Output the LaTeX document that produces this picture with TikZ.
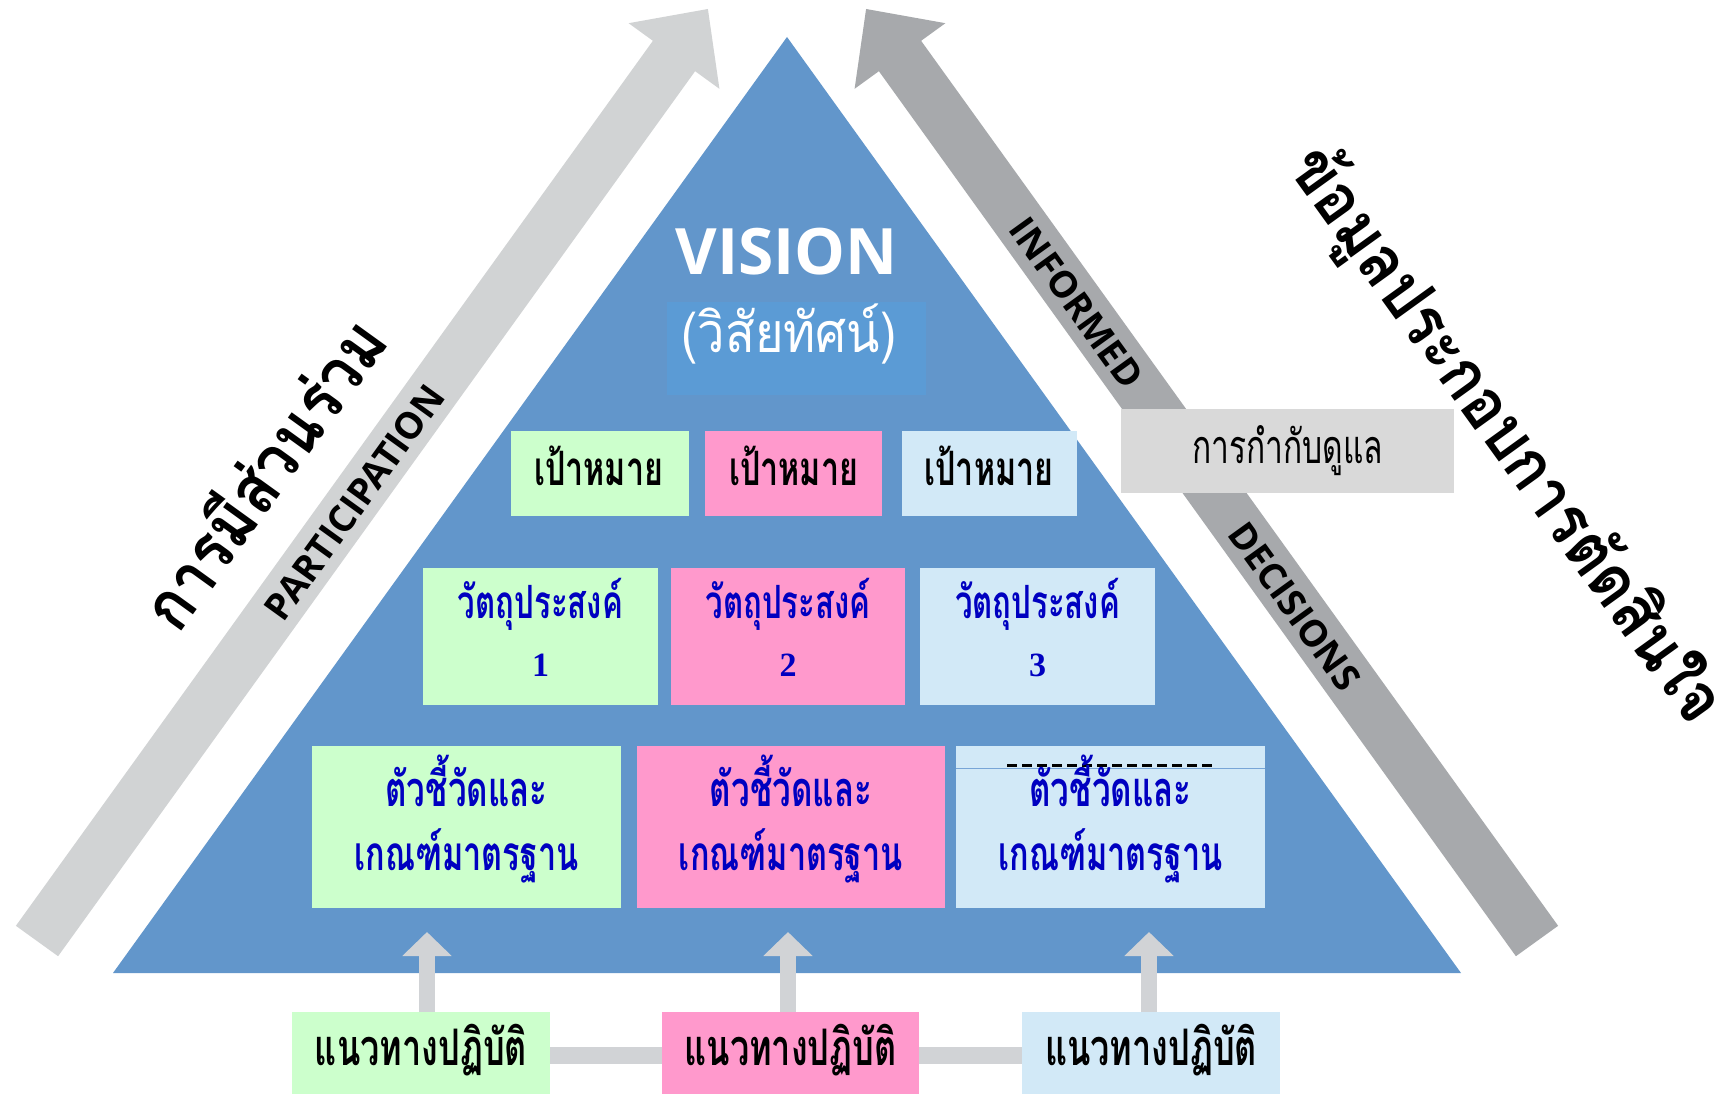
\documentclass[tikz,border=0pt]{standalone}
\usepackage{fontspec}
\usepackage{graphicx}
\usetikzlibrary{arrows.meta,fit}
\newfontfamily\thaiL[Script=Thai]{Loma}
\newfontfamily\thaiM[Script=Thai,FakeStretch=0.88]{Loma}
\newfontfamily\thaiN[Script=Thai,FakeStretch=0.68]{Loma}
\newfontfamily\osans{Open Sans}
\newfontfamily\sdig{Liberation Serif}
\newcommand\fitw[2]{\resizebox{#1pt}{!}{#2}}
\definecolor{tri}{RGB}{98,150,203}
\definecolor{visrect}{RGB}{91,155,213}
\definecolor{cgreen}{RGB}{204,255,204}
\definecolor{cpink}{RGB}{255,153,204}
\definecolor{cblue}{RGB}{210,233,247}
\definecolor{cgray}{RGB}{217,217,217}
\definecolor{arrL}{RGB}{209,211,212}
\definecolor{arrR}{RGB}{167,169,172}
\definecolor{sarr}{RGB}{209,211,214}
\definecolor{tblue}{RGB}{0,0,192}
\definecolor{artline}{RGB}{120,165,215}
\begin{document}
\begin{tikzpicture}[x=1pt,y=-1pt,
  box/.style={inner sep=0pt,outer sep=0pt,draw=none},
  lbl/.style={inner sep=0pt,outer sep=0pt,anchor=base},
  rot/.style={inner sep=0pt,outer sep=0pt,anchor=center},
  uparr/.style={draw=sarr,line width=16pt,-{Triangle[width=48pt,length=24pt]}},
  hbar/.style={draw=sarr,line width=17pt}]
\useasboundingbox (0,0) rectangle (1722,1094);
\fill[white] (0,0) rectangle (1722,1094);

% big side arrows
\fill[arrL] (15.9,925.8) -- (652.9,40.8) -- (628.6,23.2) -- (707.9,9) -- (719.4,88.8) -- (695.1,71.2) -- (58.1,956.2) -- cycle;
\fill[arrR] (1558.1,925.8) -- (921.1,40.8) -- (945.4,23.2) -- (866.1,9) -- (854.6,88.8) -- (878.9,71.2) -- (1515.9,956.2) -- cycle;

% triangle
\fill[tri] (787,37) -- (1461,973) -- (113,973) -- cycle;

% vision
\node[box,fill=visrect,fit={(667,302)(926,395)}] (vr) {};
\node[lbl,text=white] (vis) at (786.5,275) {\osans\bfseries\fontsize{64}{70}\selectfont VISION};
\node[lbl,text=white] (vist) at (789,352) {\fitw{215}{\thaiM\fontsize{40}{48}\selectfont (วิสัยทัศน์)}};

% gray box
\node[box,fill=cgray,fit={(1121,409)(1454,493)}] (gb) {};
\node[lbl] (gbt) at (1287.5,463) {\fitw{191}{\thaiN\fontsize{30}{36}\selectfont การกำกับดูแล}};

% row 1
\node[box,fill=cgreen,fit={(511,431)(689,516)}] (g1) {};
\node[box,fill=cpink,fit={(705,431)(882,516)}] (p1) {};
\node[box,fill=cblue,fit={(902,431)(1077,516)}] (l1) {};
\node[lbl] (g1t) at (598.5,485) {\fitw{129}{\thaiN\bfseries\fontsize{30}{36}\selectfont เป้าหมาย}};
\node[lbl] (p1t) at (793.5,485) {\fitw{129}{\thaiN\bfseries\fontsize{30}{36}\selectfont เป้าหมาย}};
\node[lbl] (l1t) at (989,485) {\fitw{129}{\thaiN\bfseries\fontsize{30}{36}\selectfont เป้าหมาย}};

% row 2
\node[box,fill=cgreen,fit={(423,568)(658,705)}] (g2) {};
\node[box,fill=cpink,fit={(671,568)(905,705)}] (p2) {};
\node[box,fill=cblue,fit={(920,568)(1155,705)}] (l2) {};
\node[lbl,text=tblue] (g2t) at (540.5,618) {\fitw{165}{\thaiN\bfseries\fontsize{30}{36}\selectfont วัตถุประสงค์}};
\node[lbl,text=tblue] (p2t) at (788,618) {\fitw{165}{\thaiN\bfseries\fontsize{30}{36}\selectfont วัตถุประสงค์}};
\node[lbl,text=tblue] (l2t) at (1037.5,618) {\fitw{165}{\thaiN\bfseries\fontsize{30}{36}\selectfont วัตถุประสงค์}};
\node[lbl,text=tblue] (g2n) at (540.5,676) {\sdig\bfseries\fontsize{34}{38}\selectfont 1};
\node[lbl,text=tblue] (p2n) at (788,676) {\sdig\bfseries\fontsize{34}{38}\selectfont 2};
\node[lbl,text=tblue] (l2n) at (1037.5,676) {\sdig\bfseries\fontsize{34}{38}\selectfont 3};

% row 3
\node[box,fill=cgreen,fit={(312,746)(621,908)}] (g3) {};
\node[box,fill=cpink,fit={(637,746)(945,908)}] (p3) {};
\node[box,fill=cblue,fit={(956,746)(1265,908)}] (l3) {};
\draw[black,line width=3pt,dash pattern=on 10pt off 5pt] (1007,765) -- (1213,765);
\draw[artline,line width=1pt] (956,768) -- (1265,768);
\node[lbl,text=tblue] (g3t) at (466.5,806) {\fitw{162}{\thaiN\bfseries\fontsize{30}{36}\selectfont ตัวชี้วัดและ}};
\node[lbl,text=tblue] (g3u) at (466.5,870) {\fitw{224}{\thaiN\bfseries\fontsize{30}{36}\selectfont เกณฑ์มาตรฐาน}};
\node[lbl,text=tblue] (p3t) at (791,806) {\fitw{162}{\thaiN\bfseries\fontsize{30}{36}\selectfont ตัวชี้วัดและ}};
\node[lbl,text=tblue] (p3u) at (791,870) {\fitw{224}{\thaiN\bfseries\fontsize{30}{36}\selectfont เกณฑ์มาตรฐาน}};
\node[lbl,text=tblue] (l3t) at (1110.5,806) {\fitw{162}{\thaiN\bfseries\fontsize{30}{36}\selectfont ตัวชี้วัดและ}};
\node[lbl,text=tblue] (l3u) at (1110.5,870) {\fitw{224}{\thaiN\bfseries\fontsize{30}{36}\selectfont เกณฑ์มาตรฐาน}};

% bottom row
\node[box,fill=cgreen,fit={(292,1012)(550,1094)}] (b1) {};
\node[box,fill=cpink,fit={(662,1012)(919,1094)}] (b2) {};
\node[box,fill=cblue,fit={(1022,1012)(1280,1094)}] (b3) {};
\draw[hbar] ([yshift=-2.5pt]b1.east) -- ([yshift=-2.5pt]b2.west);
\draw[hbar] ([yshift=-2.5pt]b2.east) -- ([yshift=-2.5pt]b3.west);
\coordinate (a1) at (427,932);
\coordinate (a2) at (788,932);
\coordinate (a3) at (1149,932);
\draw[uparr] (b1.north -| a1) -- (a1);
\draw[uparr] (b2.north -| a2) -- (a2);
\draw[uparr] (b3.north -| a3) -- (a3);
\node[lbl] (b1t) at (421,1065) {\fitw{212}{\thaiN\bfseries\fontsize{30}{36}\selectfont แนวทางปฏิบัติ}};
\node[lbl] (b2t) at (790.5,1065) {\fitw{212}{\thaiN\bfseries\fontsize{30}{36}\selectfont แนวทางปฏิบัติ}};
\node[lbl] (b3t) at (1151,1065) {\fitw{212}{\thaiN\bfseries\fontsize{30}{36}\selectfont แนวทางปฏิบัติ}};

% rotated labels
\node[rot,rotate=54.2] (lpart) at (261,472) {\fitw{362}{\thaiM\bfseries\fontsize{40}{48}\selectfont การมีส่วนร่วม}};
\node[rot,rotate=54.2] (epart) at (354.5,502.5) {\osans\bfseries\fontsize{37}{40}\selectfont PARTICIPATION};
\node[rot,rotate=-54.2] (einf) at (1076.5,303) {\osans\bfseries\fontsize{37}{40}\selectfont INFORMED};
\node[rot,rotate=-54.2] (edec) at (1294.5,606.5) {\osans\bfseries\fontsize{37}{40}\selectfont DECISIONS};
\node[rot,rotate=-54.2] (rinf) at (1505,436) {\fitw{692}{\thaiM\bfseries\fontsize{40}{48}\selectfont ข้อมูลประกอบการตัดสินใจ}};
\end{tikzpicture}
\end{document}
